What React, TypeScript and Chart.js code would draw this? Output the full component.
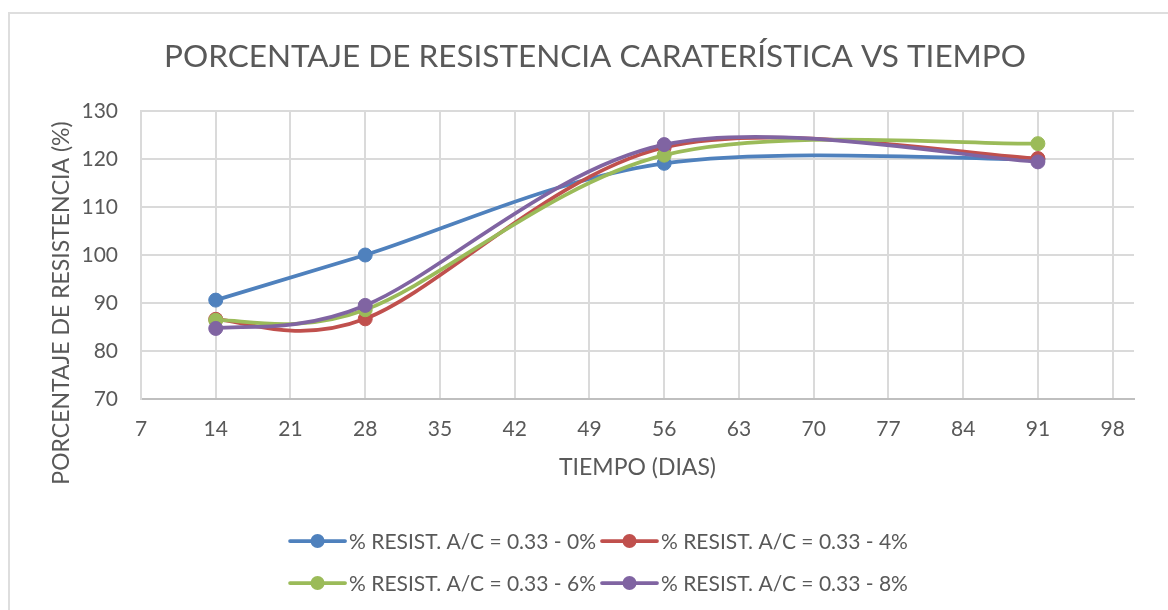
import React, { useEffect, useRef } from "react";
import { Chart, registerables } from "chart.js";

Chart.register(...registerables);

// ---------- data ----------
const xDays = [14, 28, 56, 91];
const seriesNames = [
  "% RESIST. A/C = 0.33 - 0%",
  "% RESIST. A/C = 0.33 - 4%",
  "% RESIST. A/C = 0.33 - 6%",
  "% RESIST. A/C = 0.33 - 8%",
];
const resist0 = [90.6, 100.0, 119.1, 119.9];
const resist4 = [86.6, 86.7, 122.4, 120.1];
const resist6 = [86.4, 88.6, 120.8, 123.2];
const resist8 = [84.7, 89.5, 123.0, 119.4];
const seriesValues = [resist0, resist4, resist6, resist8];
const seriesColors = ["#4F81BD", "#C0504D", "#9BBB59", "#8064A2"];
const xTickValues = [7, 14, 21, 28, 35, 42, 49, 56, 63, 70, 77, 84, 91, 98];
const yTickValues = [70, 80, 90, 100, 110, 120, 130];
const chartTitle = "PORCENTAJE DE RESISTENCIA CARATERÍSTICA VS TIEMPO";
const xAxisTitle = "TIEMPO (DIAS)";
const yAxisTitle = "PORCENTAJE DE RESISTENCIA (%)";

// ---------- style ----------
const FONT = "Lato";
const TEXT = "#595959";
const GRID = "#DADADA";

// Excel-like smoothing (Catmull-Rom bezier, arms capped to half segment)
const excelSmooth = {
  id: "excelSmooth",
  beforeDatasetsDraw(chart: any) {
    chart.data.datasets.forEach((_ds: any, i: number) => {
      const meta = chart.getDatasetMeta(i);
      const pts = meta.data;
      const n = pts.length;
      for (let k = 0; k < n; k++) {
        const p = pts[k];
        const prev = pts[k - 1] || p;
        const next = pts[k + 1] || p;
        const vx = (next.x - prev.x) / 6;
        const vy = (next.y - prev.y) / 6;
        const len = Math.hypot(vx, vy) || 1;
        const dNext = Math.hypot(next.x - p.x, next.y - p.y);
        const dPrev = Math.hypot(p.x - prev.x, p.y - prev.y);
        const sN = Math.min(1, dNext / 2 / len);
        const sP = Math.min(1, dPrev / 2 / len);
        p.cp2x = p.x + vx * sN;
        p.cp2y = p.y + vy * sN;
        p.cp1x = p.x - vx * sP;
        p.cp1y = p.y - vy * sP;
      }
      if (meta.dataset) meta.dataset._pointsUpdated = true;
    });
  },
};

const textPlugin = {
  id: "textPlugin",
  afterDraw(chart: any) {
    const ctx = chart.ctx;
    const area = chart.chartArea;
    ctx.save();
    ctx.fillStyle = TEXT;
    ctx.textBaseline = "middle";
    ctx.textAlign = "center";
    // title
    ctx.font = `31.5px ${FONT}`;
    ctx.fillText(chartTitle, 595, 57);
    // x title
    ctx.font = `23px ${FONT}`;
    ctx.fillText(xAxisTitle, (area.left + area.right) / 2, 468);
    // y title
    ctx.save();
    ctx.translate(62, 303);
    ctx.rotate(-Math.PI / 2);
    ctx.fillText(yAxisTitle, 0, 0);
    ctx.restore();
    // legend
    ctx.font = `21px ${FONT}`;
    const symW = 55;
    const gap = 4;
    const itemGap = 6;
    const colW = seriesNames.map((s) => symW + gap + ctx.measureText(s).width);
    const c0 = Math.max(colW[0], colW[2]);
    const c1 = Math.max(colW[1], colW[3]);
    const total = c0 + itemGap + c1;
    const startX = 599 - total / 2;
    const rowsY = [541, 583];
    seriesNames.forEach((name, i) => {
      const col = i % 2;
      const row = Math.floor(i / 2);
      const x = col === 0 ? startX : startX + c0 + itemGap;
      const y = rowsY[row];
      ctx.strokeStyle = seriesColors[i];
      ctx.lineWidth = 3.75;
      ctx.lineCap = "round";
      ctx.beginPath();
      ctx.moveTo(x, y);
      ctx.lineTo(x + symW, y);
      ctx.stroke();
      ctx.fillStyle = seriesColors[i];
      ctx.beginPath();
      ctx.arc(x + symW / 2, y, 7, 0, Math.PI * 2);
      ctx.fill();
      ctx.fillStyle = TEXT;
      ctx.textAlign = "left";
      ctx.fillText(name, x + symW + gap, y + 1);
    });
    ctx.restore();
  },
};

export default function App() {
  const ref = useRef<HTMLCanvasElement | null>(null);
  useEffect(() => {
    if (!ref.current) return;
    const datasets = seriesValues.map((vals, i) => ({
      label: seriesNames[i],
      data: xDays.map((x, j) => ({ x, y: vals[j] })),
      borderColor: seriesColors[i],
      backgroundColor: seriesColors[i],
      borderWidth: 3.75,
      pointRadius: 7,
      pointBorderWidth: 1,
      pointBorderColor: seriesColors[i],
      pointBackgroundColor: seriesColors[i],
      tension: 0.4,
      fill: false,
      order: 4 - i,
      borderCapStyle: "round" as const,
    }));
    const chart = new Chart(ref.current, {
      type: "line",
      data: { datasets },
      options: {
        animation: false,
        responsive: false,
        maintainAspectRatio: false,
        devicePixelRatio: 1,
        layout: { padding: { top: 111, right: 34, bottom: 0, left: 0 } },
        plugins: {
          legend: { display: false },
          title: { display: false },
          tooltip: { enabled: false },
        },
        scales: {
          x: {
            type: "linear",
            min: 7,
            max: 100,
            afterBuildTicks: (s: any) => {
              s.ticks = xTickValues.map((v) => ({ value: v }));
            },
            afterFit: (s: any) => {
              s.height = 211;
            },
            grid: { color: GRID, lineWidth: 2, drawTicks: false },
            border: { color: "#BFBFBF", width: 2 },
            ticks: {
              padding: 18,
              color: TEXT,
              font: { family: FONT, size: 21 },
              maxRotation: 0,
              autoSkip: false,
            },
          },
          y: {
            type: "linear",
            min: 70,
            max: 130,
            afterBuildTicks: (s: any) => {
              s.ticks = yTickValues.map((v) => ({ value: v }));
            },
            afterFit: (s: any) => {
              s.width = 141;
            },
            grid: { color: GRID, lineWidth: 2, drawTicks: false },
            border: { color: GRID, width: 2 },
            ticks: {
              padding: 23,
              color: TEXT,
              font: { family: FONT, size: 21 },
              autoSkip: false,
            },
          },
        },
      },
      plugins: [excelSmooth, textPlugin],
    });
    return () => chart.destroy();
  }, []);

  return (
    <div style={{ position: "fixed", left: 0, top: 0, width: 1168, height: 610, overflow: "hidden", background: "#fff" }}>
      <div
        style={{
          position: "absolute",
          left: 8,
          top: 12,
          width: 1300,
          height: 800,
          border: "2px solid #DEDEDE",
          boxSizing: "border-box",
        }}
      />
      <canvas ref={ref} width={1168} height={610} style={{ position: "absolute", left: 0, top: 0, width: 1168, height: 610 }} />
    </div>
  );
}
